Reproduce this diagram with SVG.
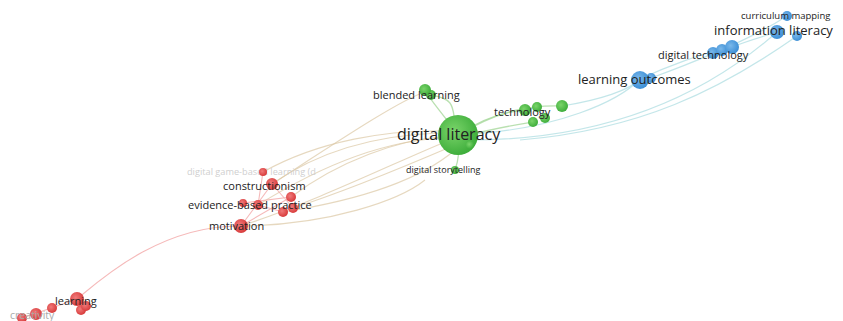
<svg xmlns="http://www.w3.org/2000/svg" width="843" height="321" viewBox="0 0 843 321">
<defs>
<radialGradient id="gG" cx="0.4" cy="0.4" r="0.6"><stop offset="0" stop-color="#7ad46a"/><stop offset="1" stop-color="#3fae3c"/></radialGradient>
<radialGradient id="gB" cx="0.4" cy="0.4" r="0.6"><stop offset="0" stop-color="#7ab8ea"/><stop offset="1" stop-color="#3d8fd6"/></radialGradient>
<radialGradient id="gR" cx="0.4" cy="0.4" r="0.6"><stop offset="0" stop-color="#f07a7a"/><stop offset="1" stop-color="#d83c3c"/></radialGradient>
</defs>
<style>
.lbl{font-family:"Open Sans","Noto Sans",sans-serif;fill:#222}
.fade{fill:#cfcfcf}
.g{fill:url(#gG)} .b{fill:url(#gB)} .r{fill:url(#gR)}
.eg{stroke:#a8d89c;fill:none;stroke-width:1.3;opacity:.8}
.eb{stroke:#b4e0e4;fill:none;stroke-width:1.2;opacity:.8}
.eo{stroke:#dcc8a4;fill:none;stroke-width:1.1;opacity:.7}
.er{stroke:#f2a8a8;fill:none;stroke-width:1.1;opacity:.8}
</style>
<rect width="843" height="321" fill="#fff"/>
<g id="edges">
<path class="eb" d="M458 135 C 560 130, 620 100, 640 79"/>
<path class="eb" d="M470 140 C 600 140, 700 100, 777 32"/>
<path class="eb" d="M520 140 C 640 130, 720 90, 797 36"/>
<path class="eb" d="M562 106 C 600 100, 630 90, 640 79"/>
<path class="eb" d="M640 79 C 670 65, 700 55, 713 52"/>
<path class="eb" d="M732 47 C 750 40, 765 36, 777 32"/>
<path class="eb" d="M651 78 C 700 60, 750 40, 787 16"/>
<path class="eg" d="M458 135 C 480 120, 500 112, 525 110"/>
<path class="eg" d="M458 135 C 500 110, 530 105, 562 106"/>
<path class="eg" d="M458 135 C 440 110, 430 100, 425 90"/>
<path class="eg" d="M458 135 C 450 110, 460 100, 431 95"/>
<path class="eg" d="M458 135 C 460 150, 458 162, 455 170"/>
<path class="eg" d="M470 135 C 495 128, 515 125, 533 122"/>
<path class="eo" d="M272 184 C 320 150, 380 135, 440 133"/>
<path class="eo" d="M258 205 C 330 160, 390 140, 445 138"/>
<path class="eo" d="M241 226 C 320 200, 400 160, 450 140"/>
<path class="eo" d="M291 197 C 340 160, 400 140, 440 137"/>
<path class="eo" d="M293 208 C 350 190, 420 160, 455 145"/>
<path class="eo" d="M283 212 C 360 200, 420 180, 455 150"/>
<path class="eo" d="M263 172 C 320 140, 390 130, 440 131"/>
<path class="eo" d="M241 226 C 330 225, 400 200, 425 180"/>
<path class="eo" d="M272 184 C 340 140, 400 100, 425 92"/>
<path class="er" d="M241 226 C 160 225, 100 280, 77 299"/>
<path class="er" d="M272 184 L 241 226 M263 172 L 258 205 M243 203 L 291 197 M258 205 L 283 212 M272 184 L 293 208 M241 226 L 291 197"/>
<path class="er" d="M77 299 C 60 305, 40 312, 22 318"/>
</g>
<g id="n-curriculum-mapping"><circle class="b" cx="787" cy="16" r="5"/><text class="lbl" x="741" y="19" font-size="9.5">curriculum mapping</text></g>
<g id="n-information-literacy"><circle class="b" cx="797" cy="36" r="5"/><circle class="b" cx="777" cy="32" r="7"/><text class="lbl" x="714" y="35" font-size="13">information literacy</text></g>
<g id="n-digital-technology"><circle class="b" cx="713" cy="53" r="6"/><circle class="b" cx="722" cy="50" r="6"/><circle class="b" cx="732" cy="47" r="7"/><text class="lbl" x="658" y="59" font-size="11">digital technology</text></g>
<g id="n-learning-outcomes"><circle class="b" cx="651" cy="78" r="5"/><circle class="b" cx="640" cy="80" r="9"/><text class="lbl" x="578" y="84" font-size="13">learning outcomes</text></g>
<g id="n-blended-learning"><circle class="g" cx="431" cy="95" r="5"/><circle class="g" cx="425" cy="90" r="6"/><text class="lbl" x="373" y="99" font-size="11">blended learning</text></g>
<g id="n-technology"><circle class="g" cx="562" cy="106" r="6"/><circle class="g" cx="545" cy="118" r="5"/><circle class="g" cx="533" cy="122" r="5"/><circle class="g" cx="537" cy="107" r="5"/><circle class="g" cx="525" cy="110" r="6"/><text class="lbl" x="494" y="116" font-size="11">technology</text></g>
<g id="n-digital-literacy"><circle class="g" cx="458" cy="135" r="20"/><circle class="g" cx="470" cy="145" r="4"/><text class="lbl" x="397" y="140" font-size="16">digital literacy</text></g>
<g id="n-digital-storytelling"><circle class="g" cx="455" cy="170" r="4"/><text class="lbl" x="406" y="173" font-size="9">digital storytelling</text></g>
<g id="n-digital-game-based-learning"><text class="lbl fade" x="187" y="175" font-size="9.2">digital game-based learning (d</text><circle class="r" cx="263" cy="172" r="4"/></g>
<g id="n-constructionism"><circle class="r" cx="291" cy="197" r="5"/><circle class="r" cx="272" cy="184" r="6"/><text class="lbl" x="223" y="189.5" font-size="11">constructionism</text></g>
<g id="n-evidence-based-practice"><circle class="r" cx="293" cy="208" r="5"/><circle class="r" cx="283" cy="212" r="5"/><circle class="r" cx="243" cy="203" r="4"/><circle class="r" cx="258" cy="205" r="5"/><text class="lbl" x="188" y="209" font-size="11">evidence-based practice</text></g>
<g id="n-motivation"><circle class="r" cx="241" cy="226" r="7"/><text class="lbl" x="209" y="230" font-size="11">motivation</text></g>
<g id="n-learning"><circle class="r" cx="81" cy="310" r="5"/><circle class="r" cx="86" cy="306" r="5"/><circle class="r" cx="77" cy="299" r="7"/><text class="lbl" x="55" y="305" font-size="11">learning</text></g>
<g id="n-creativity"><circle class="r" cx="52" cy="308" r="5"/><circle class="r" cx="36" cy="314" r="6"/><circle class="r" cx="22" cy="318" r="5"/><text class="lbl fade" x="10" y="319" font-size="10.5" style="fill:#aaa">creativity</text></g>
</svg>
